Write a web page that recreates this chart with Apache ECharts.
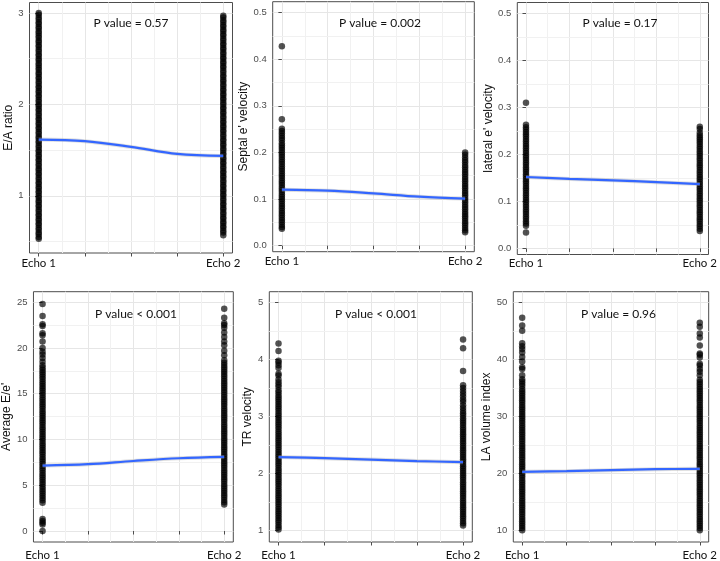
<!DOCTYPE html>
<html>
<head>
<meta charset="utf-8">
<script src="https://cdn.jsdelivr.net/npm/echarts@6/dist/echarts.min.js"></script>
<style>html,body{margin:0;padding:0;background:#fff}#c{width:720px;height:561px}</style>
</head>
<body>
<div id="c"></div>
<script>
// ---------- data ----------
const echoLabels = ['Echo 1', 'Echo 2'];
const echoX = [0, 4];
const xTicks = [0, 1, 2, 3, 4];
const xMinor = [0.5, 1.5, 2.5, 3.5];
const fitX = [0, 1, 2, 3, 4];

const yTitles = ['E/A ratio', "Septal e' velocity", "lateral e' velocity", "Average E/e'", 'TR velocity', 'LA volume index'];
const pTexts = ['P value = 0.57', 'P value = 0.002', 'P value = 0.17', 'P value < 0.001', 'P value < 0.001', 'P value = 0.96'];

const yMajor = [
  [1, 2, 3],
  [0, 0.1, 0.2, 0.3, 0.4, 0.5],
  [0, 0.1, 0.2, 0.3, 0.4, 0.5],
  [0, 5, 10, 15, 20, 25],
  [1, 2, 3, 4, 5],
  [10, 20, 30, 40, 50]
];
const yMinor = [
  [0.5, 1.5, 2.5],
  [0.05, 0.15, 0.25, 0.35, 0.45],
  [0.05, 0.15, 0.25, 0.35, 0.45],
  [2.5, 7.5, 12.5, 17.5, 22.5],
  [1.5, 2.5, 3.5, 4.5],
  [15, 25, 35, 45]
];

// E/A ratio
const ea1 = [0.53,0.55,0.58,0.60,0.63,0.65,0.68,0.70,0.73,0.75,0.78,0.80,0.83,0.85,0.88,0.90,0.93,0.95,0.98,1.00,1.03,1.05,1.08,1.10,1.13,1.15,1.18,1.20,1.23,1.25,1.28,1.30,1.33,1.35,1.38,1.40,1.43,1.45,1.48,1.50,1.53,1.55,1.58,1.60,1.63,1.65,1.68,1.70,1.73,1.75,1.78,1.80,1.83,1.85,1.88,1.90,1.93,1.95,1.98,2.00,2.03,2.05,2.08,2.10,2.13,2.15,2.18,2.20,2.23,2.25,2.28,2.30,2.33,2.35,2.38,2.40,2.43,2.45,2.48,2.50,2.53,2.55,2.58,2.60,2.63,2.65,2.68,2.70,2.73,2.75,2.78,2.80,2.83,2.85,2.88,2.90,2.93,2.95,2.98,3.00];
const ea2 = [0.57,0.60,0.62,0.65,0.67,0.70,0.72,0.75,0.77,0.80,0.82,0.85,0.87,0.90,0.92,0.95,0.97,1.00,1.02,1.05,1.07,1.10,1.12,1.15,1.17,1.20,1.22,1.25,1.27,1.30,1.32,1.35,1.37,1.40,1.42,1.45,1.47,1.50,1.52,1.55,1.57,1.60,1.62,1.65,1.67,1.70,1.72,1.75,1.77,1.80,1.82,1.85,1.87,1.90,1.92,1.95,1.97,2.00,2.02,2.05,2.07,2.10,2.12,2.15,2.17,2.20,2.22,2.25,2.27,2.30,2.32,2.35,2.37,2.40,2.42,2.45,2.47,2.50,2.52,2.55,2.57,2.60,2.62,2.65,2.67,2.70,2.72,2.75,2.77,2.80,2.82,2.85,2.87,2.90,2.92,2.95,2.97];
const eaFit = [1.616, 1.598, 1.536, 1.459, 1.437];

// Septal e' velocity
const sep1 = [0.036,0.04,0.045,0.05,0.055,0.06,0.065,0.07,0.075,0.08,0.085,0.09,0.095,0.1,0.105,0.11,0.115,0.12,0.125,0.13,0.135,0.14,0.145,0.15,0.155,0.16,0.165,0.17,0.175,0.18,0.185,0.19,0.195,0.2,0.205,0.21,0.215,0.22,0.226,0.231,0.236,0.241,0.246,0.251,0.271,0.428];
const sep2 = [0.029,0.033,0.038,0.043,0.048,0.053,0.058,0.063,0.068,0.073,0.078,0.083,0.088,0.093,0.098,0.103,0.108,0.113,0.118,0.123,0.128,0.133,0.138,0.143,0.148,0.153,0.158,0.163,0.168,0.173,0.179,0.184,0.189,0.195,0.2];
const sepFit = [0.12, 0.118, 0.112, 0.105, 0.101];

// lateral e' velocity
const lat1 = [0.034,0.048,0.053,0.058,0.063,0.068,0.073,0.078,0.083,0.088,0.093,0.098,0.103,0.108,0.113,0.118,0.123,0.128,0.133,0.138,0.143,0.148,0.153,0.158,0.163,0.168,0.173,0.178,0.183,0.188,0.193,0.198,0.203,0.208,0.213,0.218,0.223,0.228,0.233,0.238,0.243,0.248,0.253,0.258,0.263,0.31];
const lat2 = [0.037,0.042,0.047,0.052,0.057,0.062,0.067,0.072,0.077,0.082,0.087,0.092,0.097,0.102,0.107,0.112,0.117,0.122,0.127,0.132,0.137,0.142,0.147,0.152,0.157,0.162,0.167,0.172,0.177,0.182,0.187,0.192,0.197,0.202,0.207,0.212,0.217,0.222,0.227,0.232,0.236,0.241,0.246,0.254,0.259];
const latFit = [0.152, 0.148, 0.145, 0.141, 0.137];

// Average E/e'
const avg1 = [0,0.7,0.9,1.1,1.3,3.1,3.35,3.6,3.85,4.1,4.35,4.6,4.85,5.1,5.35,5.6,5.85,6.1,6.35,6.6,6.85,7.1,7.35,7.6,7.85,8.1,8.35,8.6,8.85,9.1,9.35,9.6,9.85,10.1,10.35,10.6,10.85,11.1,11.35,11.6,11.85,12.1,12.35,12.6,12.85,13.1,13.35,13.6,13.85,14.1,14.35,14.6,14.85,15.1,15.35,15.6,15.85,16.1,16.35,16.6,16.85,17.1,17.35,17.6,17.85,18.1,18.5,18.9,19.3,19.6,20.0,20.7,21.4,21.6,22.4,22.6,23.5,24.8];
const avg2 = [2.9,3.15,3.4,3.65,3.9,4.15,4.4,4.65,4.9,5.15,5.4,5.65,5.9,6.15,6.4,6.65,6.9,7.15,7.4,7.65,7.9,8.15,8.4,8.65,8.9,9.15,9.4,9.65,9.9,10.15,10.4,10.65,10.9,11.15,11.4,11.65,11.9,12.15,12.4,12.65,12.9,13.15,13.4,13.65,13.9,14.15,14.4,14.65,14.9,15.15,15.4,15.65,15.9,16.15,16.4,16.65,16.9,17.15,17.4,17.65,17.9,18.15,18.4,18.65,19.2,19.7,20.3,20.7,21.2,21.7,22.2,22.5,22.7,23.3,24.3];
const avgFit = [7.15, 7.3, 7.65, 7.95, 8.1];

// TR velocity
const tr1 = [1.02,1.06,1.1,1.14,1.18,1.22,1.26,1.3,1.34,1.38,1.42,1.46,1.5,1.54,1.58,1.62,1.66,1.7,1.74,1.78,1.82,1.86,1.9,1.94,1.98,2.02,2.06,2.1,2.14,2.18,2.22,2.26,2.3,2.34,2.38,2.42,2.46,2.5,2.54,2.58,2.62,2.66,2.7,2.74,2.78,2.82,2.86,2.9,2.94,2.98,3.02,3.06,3.1,3.14,3.18,3.22,3.26,3.3,3.34,3.38,3.42,3.46,3.52,3.56,3.6,3.65,3.72,3.75,3.85,3.9,3.95,3.98,4.15,4.28];
const tr2 = [1.09,1.13,1.17,1.21,1.25,1.29,1.33,1.37,1.41,1.45,1.49,1.53,1.57,1.61,1.65,1.69,1.73,1.77,1.81,1.85,1.89,1.93,1.97,2.01,2.05,2.09,2.13,2.17,2.21,2.25,2.29,2.33,2.37,2.41,2.45,2.49,2.53,2.57,2.61,2.65,2.69,2.73,2.77,2.81,2.85,2.89,2.93,2.97,3.02,3.06,3.1,3.15,3.2,3.26,3.3,3.35,3.4,3.45,3.5,3.55,3.8,4.2,4.35];
const trFit = [2.29, 2.27, 2.245, 2.22, 2.2];

// LA volume index
const la1 = [10,10.4,10.8,11.2,11.6,12,12.4,12.8,13.2,13.6,14,14.4,14.8,15.2,15.6,16,16.4,16.8,17.2,17.6,18,18.4,18.8,19.2,19.6,20,20.4,20.8,21.2,21.6,22,22.4,22.8,23.2,23.6,24,24.4,24.8,25.2,25.6,26,26.4,26.8,27.2,27.6,28,28.4,28.8,29.2,29.6,30,30.4,30.8,31.2,31.6,32,32.4,32.8,33.2,33.6,34,34.4,34.8,35.3,35.7,36.1,36.5,37.2,38.3,38.6,39.6,40.4,41.2,41.8,42.3,42.8,45.0,45.9,47.3];
const la2 = [10,10.4,10.8,11.2,11.6,12,12.4,12.8,13.2,13.6,14,14.4,14.8,15.2,15.6,16,16.4,16.8,17.2,17.6,18,18.4,18.8,19.2,19.6,20,20.4,20.8,21.2,21.6,22,22.4,22.8,23.2,23.6,24,24.4,24.8,25.2,25.6,26,26.4,26.8,27.2,27.6,28,28.4,28.8,29.2,29.6,30,30.4,30.8,31.2,31.6,32,32.4,32.8,33.2,33.6,34,34.4,34.8,35.2,35.6,36.0,36.4,37.2,37.8,38.3,38.9,39.2,40.3,40.8,41.0,42.4,43.8,44.5,45.7,46.4];
const laFit = [20.26, 20.38, 20.55, 20.72, 20.79];

const echo1Sets = [ea1, sep1, lat1, avg1, tr1, la1];
const echo2Sets = [ea2, sep2, lat2, avg2, tr2, la2];
const fits = [eaFit, sepFit, latFit, avgFit, trFit, laFit];
const labelDigits = [0, 1, 1, 0, 0, 0];

// ---------- layout ----------
const layout = [
  {left: 29.5, top: 2.5, width: 203, height: 250.5, ymin: 0.375, ymax: 3.115, nameGap: 15, lm: 4, px: 131, py: 22.7},
  {left: 272.7, top: 1.7, width: 201.6, height: 250, ymin: -0.013, ymax: 0.5235, nameGap: 20, lm: 4, px: 380, py: 22.7},
  {left: 517.3, top: 2.5, width: 200, height: 252, ymin: -0.013, ymax: 0.5235, nameGap: 19.5, lm: 3, px: 620, py: 22.7},
  {left: 29.3, top: 291.7, width: 204, height: 250.6, ymin: -1.2, ymax: 26.15, nameGap: 16, lm: 7, px: 136, py: 314.3},
  {left: 269.3, top: 291.7, width: 203, height: 250.6, ymin: 0.8, ymax: 5.19, nameGap: 11.5, lm: 7, px: 376, py: 314.3},
  {left: 513.3, top: 291.7, width: 204.4, height: 250.6, ymin: 7.95, ymax: 51.85, nameGap: 18, lm: 7, px: 618.5, py: 314.3}
];

const grids = [], xAxes = [], yAxes = [], series = [], graphics = [];
layout.forEach((L, i) => {
  grids.push({left: L.left, top: L.top, width: L.width, height: L.height, show: true,
    borderColor: '#4d4d4d', borderWidth: 1, backgroundColor: 'transparent', containLabel: false});
  xAxes.push({
    type: 'value', gridIndex: i, min: -0.2, max: 4.2,
    axisLine: {show: false},
    axisTick: {show: true, customValues: xTicks, length: 3.5, lineStyle: {color: '#4d4d4d'}},
    splitLine: {show: true, lineStyle: {color: '#e6e6e6', width: 1}},
    axisLabel: {customValues: echoX, margin: L.lm, color: '#111', fontFamily: 'Lato', fontSize: 11.5,
      formatter: v => echoLabels[echoX.indexOf(v)] || ''}
  });
  yAxes.push({
    type: 'value', gridIndex: i, min: L.ymin, max: L.ymax,
    name: yTitles[i], nameLocation: 'middle', nameGap: L.nameGap,
    nameTextStyle: {fontFamily: 'Liberation Sans', fontSize: 12, color: '#111'},
    axisLine: {show: false},
    axisTick: {show: true, customValues: yMajor[i], length: 3.5, lineStyle: {color: '#4d4d4d'}},
    splitLine: {show: true, lineStyle: {color: '#e6e6e6', width: 1}},
    axisLabel: {customValues: yMajor[i], margin: 6, color: '#4d4d4d', fontFamily: 'Liberation Sans', fontSize: 9.5,
      formatter: v => Number(v).toFixed(labelDigits[i])}
  });
  // SE band + minor grid lines
  series.push({
    type: 'line', xAxisIndex: i, yAxisIndex: i, silent: true, animation: false,
    data: fits[i].map((v, k) => [fitX[k], v]), smooth: 0.35, showSymbol: false,
    lineStyle: {color: 'rgba(160,160,160,0.35)', width: 4}, z: 3,
    markLine: {
      silent: true, animation: false, symbol: ['none', 'none'], z: 1,
      label: {show: false}, emphasis: {disabled: true},
      lineStyle: {color: '#f1f1f1', width: 1, type: 'solid'},
      data: yMinor[i].map(v => ({yAxis: v})).concat(xMinor.map(v => ({xAxis: v})))
    }
  });
  [echo1Sets[i], echo2Sets[i]].forEach((set, j) => {
    series.push({
      type: 'scatter', xAxisIndex: i, yAxisIndex: i, silent: true, animation: false,
      symbolSize: 6.5, itemStyle: {color: '#000', opacity: 0.68}, z: 2,
      data: set.map(v => [echoX[j], v])
    });
  });
  series.push({
    type: 'line', xAxisIndex: i, yAxisIndex: i, silent: true, animation: false,
    data: fits[i].map((v, k) => [fitX[k], v]), smooth: 0.35, showSymbol: false,
    lineStyle: {color: '#3366FF', width: 2.2}, z: 4
  });
  graphics.push({type: 'text', x: L.px, y: L.py, z: 10,
    style: {text: pTexts[i], align: 'center', verticalAlign: 'middle', fontFamily: 'Lato', fontSize: 12, fill: '#111'}});
});

const chart = echarts.init(document.getElementById('c'), null, {renderer: 'canvas'});
chart.setOption({
  animation: false,
  backgroundColor: '#fff',
  grid: grids, xAxis: xAxes, yAxis: yAxes, series: series, graphic: graphics
});
</script>
</body>
</html>
